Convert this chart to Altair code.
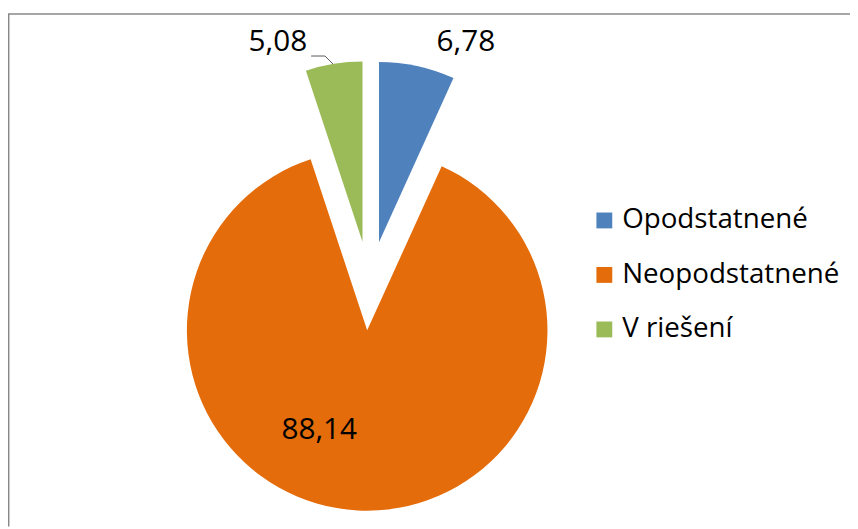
import math
import altair as alt
import pandas as pd

# ---- data ----
categories = ["Opodstatnené", "Neopodstatnené", "V riešení"]
values = [6.78, 88.14, 5.08]
value_labels = ["6,78", "88,14", "5,08"]
colors = ["#4F81BD", "#E46C0A", "#9BBB59"]

df = pd.DataFrame({
    "kategoria": categories,
    "hodnota": values,
    "popis": value_labels,
    "poradie": list(range(len(categories))),
})

# ---- layout / style ----
W, H = 850, 521
CX, CY = 365, 278          # pie centre inside the view
R = 182                    # pie radius
EXPLODE = 45               # point explosion (px)
FONT = "Open Sans"

# label placement (radius from the exploded centre + small nudges)
label_style = {
    "Opodstatnené": dict(radius=207, dx=44, dy=0),
    "Neopodstatnené": dict(radius=101, dx=-43, dy=0),
    "V riešení": dict(radius=204, dx=-53, dy=0),
}

total = sum(values)
theta_scale = alt.Scale(domain=[0, total], range=[0, 2 * math.pi])
color_scale = alt.Scale(domain=categories, range=colors)
legend = alt.Legend(
    orient="none", legendX=588, legendY=198, title=None,
    symbolType="square", symbolSize=256, symbolStrokeWidth=0,
    labelFont=FONT, labelFontSize=28, labelColor="black", labelOffset=4,
    labelLimit=0, rowPadding=27, padding=0,
)

base = alt.Chart(df).transform_window(
    cum="sum(hodnota)", sort=[alt.SortField("poradie")]
).transform_calculate(
    start="datum.cum - datum.hodnota",
    mid="datum.cum - datum.hodnota / 2",
)

layers = []
cum = 0.0
for cat, val in zip(categories, values):
    mid_angle = (cum + val / 2) / total * 2 * math.pi
    cum += val
    ex = EXPLODE * math.sin(mid_angle)
    ey = -EXPLODE * math.cos(mid_angle)
    sub = base.transform_filter(alt.datum.kategoria == cat)
    arc = sub.mark_arc(x=CX, y=CY, xOffset=ex, yOffset=ey, outerRadius=R).encode(
        theta=alt.Theta("start:Q", scale=theta_scale),
        theta2="cum:Q",
        color=alt.Color("kategoria:N", scale=color_scale, legend=legend, sort=categories),
    )
    st = label_style[cat]
    txt = sub.mark_text(
        x=CX, y=CY, xOffset=ex, yOffset=ey, radius=st["radius"],
        dx=st["dx"], dy=st["dy"], font=FONT, fontSize=30, color="black",
        align="center", baseline="middle",
    ).encode(
        theta=alt.Theta("mid:Q", scale=theta_scale),
        text="popis:N",
    )
    layers += [arc, txt]

one = alt.Data(values=[{"k": 0}])
frame_left = alt.Chart(one).mark_rule(color="#888888", strokeWidth=1.5).encode(
    x=alt.value(0.7), y=alt.value(3.5), y2=alt.value(H))
frame_top = alt.Chart(one).mark_rule(color="#888888", strokeWidth=1.5).encode(
    x=alt.value(0), x2=alt.value(W), y=alt.value(3.5))
leader1 = alt.Chart(one).mark_rule(color="#595959", strokeWidth=1).encode(
    x=alt.value(306), x2=alt.value(320), y=alt.value(46), y2=alt.value(46))
leader2 = alt.Chart(one).mark_rule(color="#595959", strokeWidth=1).encode(
    x=alt.value(320), x2=alt.value(328), y=alt.value(46), y2=alt.value(54))

chart = alt.layer(
    frame_left, frame_top, *layers, leader1, leader2
).properties(
    width=W, height=H, padding=0,
    autosize=alt.AutoSizeParams(type="none"),
    background="white",
).configure_view(stroke=None)

chart.save("out.html", embed_options={"renderer": "svg", "actions": False})
